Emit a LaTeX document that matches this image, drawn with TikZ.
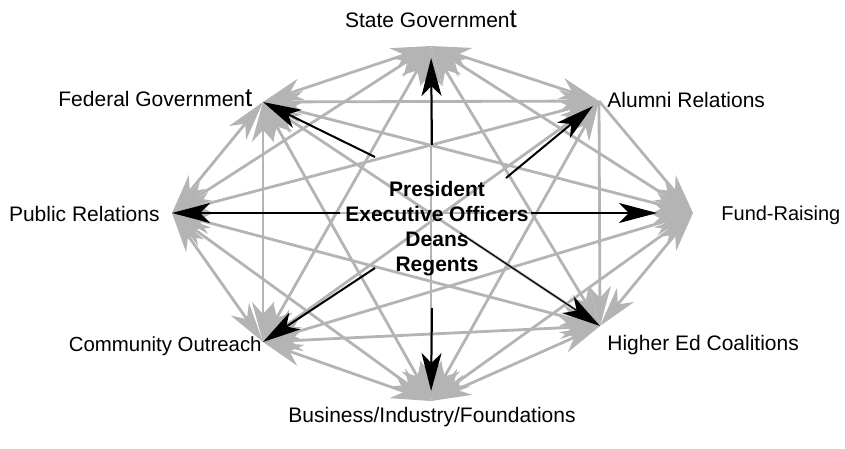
\documentclass[tikz,border=0pt]{standalone}
\usepackage{fontspec}
\setmainfont{Liberation Sans}
\usetikzlibrary{arrows.meta}
\definecolor{linkgray}{RGB}{180,180,180}
% slightly oversized final letter used in the two government labels
\newcommand\tallt{{\fontsize{13pt}{13pt}\selectfont t}}
\begin{document}
\begin{tikzpicture}[x=0.5pt,y=-0.5pt,
  font=\fontsize{10.5pt}{12.5pt}\selectfont,
  ghead/.tip={Stealth[length=20pt,width=11pt,inset=6pt]},
  bhead/.tip={Stealth[length=19pt,width=10pt,inset=5pt]},
  link/.style={draw=linkgray, line width=1.4pt, {ghead}-{ghead}},
  onelink/.style={draw=linkgray, line width=1.4pt, -{ghead}},
  spoke/.style={draw=black, line width=1pt, -{bhead}},
  lbl/.style={inner sep=0pt, text=black},
  hub/.style={inner sep=0pt, align=center, font=\fontsize{10.5pt}{12.5pt}\selectfont\bfseries}
]
\useasboundingbox (0,0) rectangle (845,449);

% points where the arrows of each partner meet
\coordinate (S)  at (431,46);
\coordinate (F)  at (263,102);
\coordinate (A)  at (599,101);
\coordinate (P)  at (172,213);
\coordinate (R)  at (693,213);
\coordinate (C)  at (263,342);
\coordinate (H)  at (600,326);
\coordinate (B)  at (431,401);

% start points of the spokes leaving the centre
\coordinate (oS) at (432,145);
\coordinate (oF) at (375,157);
\coordinate (oA) at (506,178);
\coordinate (oP) at (340,213);
\coordinate (oR) at (531,213);
\coordinate (oC) at (375,268);
\coordinate (oH) at (460,233);
\coordinate (oB) at (432,308);

% every partner linked with every other one
\draw[link] (S) -- (F);
\draw[link] (S) -- (A);
\draw[link] (S) -- (P);
\draw[link] (S) -- (R);
\draw[link] (S) -- (C);
\draw[link] (S) -- (H);
\draw[link] (S) -- (B);
\draw[link] (F) -- (A);
\draw[link] (F) -- (P);
\draw[link] (F) -- (R);
\draw[link] (F) -- (C);
\draw[link] (F) -- (H);
\draw[link] (F) -- (B);
\draw[link] (A) -- (P);
\draw[onelink] (A) -- (R);
\draw[link] (A) -- (C);
\draw[onelink] (A) -- (H);
\draw[link] (A) -- (B);
\draw[link] (P) -- (R);
\draw[link] (P) -- (C);
\draw[link] (P) -- (H);
\draw[link] (P) -- (B);
\draw[link] (R) -- (C);
\draw[link] (R) -- (H);
\draw[link] (R) -- (B);
\draw[link] (C) -- (H);
\draw[link] (C) -- (B);
\draw[link] (H) -- (B);

% spokes from the centre
\draw[spoke, shorten >=6] (oS) -- (S);
\draw[spoke] (oF) -- (F);
\draw[spoke, shorten >=4] (oA) -- (A);
\draw[spoke] (oP) -- (P);
\draw[spoke, shorten >=18] (oR) -- (R);
\draw[spoke] (oC) -- (C);
\draw[spoke, line width=0.6pt] (oH) -- (H);
\draw[spoke, shorten >=5] (oB) -- (B);

% centre block
\node[hub, anchor=base] (h1) at (437,196) {President};
\node[hub, anchor=base] (h2) at (437,221) {Executive Officers};
\node[hub, anchor=base] (h3) at (437,246) {Deans};
\node[hub, anchor=base] (h4) at (437,271) {Regents};

% partner labels
\node[lbl, anchor=base] (tS) at (431,28) {State Governmen\tallt};
\node[lbl, anchor=base west] (tF) at (58,106) {Federal Governmen\tallt};
\node[lbl, anchor=base west] (tA) at (607,108) {Alumni Relations};
\node[lbl, anchor=base east] (tP) at (160,221) {Public Relations};
\node[lbl, anchor=base west, font=\fontsize{10pt}{12pt}\selectfont] (tR) at (721,220) {Fund-Raising};
\node[lbl, anchor=base east, font=\fontsize{10.2pt}{12pt}\selectfont] (tC) at (262,351) {Community Outreach};
\node[lbl, anchor=base west] (tH) at (607,350) {Higher Ed Coalitions};
\node[lbl, anchor=base] (tB) at (432,422) {Business/Industry/Foundations};
\end{tikzpicture}
\end{document}
